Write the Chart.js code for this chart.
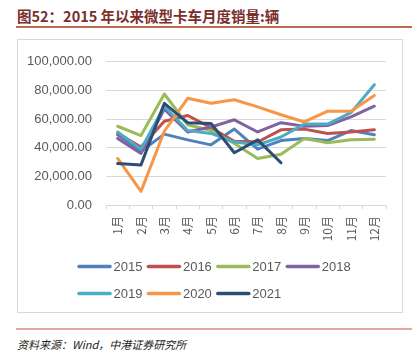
<!DOCTYPE html>
<html>
<head>
<meta charset="utf-8">
<script src="https://cdn.jsdelivr.net/npm/chart.js@4"></script>
<style>
  html, body { margin: 0; padding: 0; background: #fff; }
  body { width: 418px; height: 362px; position: relative; overflow: hidden; }
  #title {
    position: absolute; left: 17px; top: 5px;
    font: bold 14.5px "Noto Sans CJK SC", sans-serif; color: #7a2f2c; white-space: nowrap;
  }
  #titleLine { position: absolute; left: 16px; top: 26px; width: 396px; height: 1.5px; background: #bf6a52; }
  #box { position: absolute; left: 17px; top: 39px; width: 384px; height: 272px; border: 1px solid #d9d9d9; }
  #box canvas { position: absolute; left: 0; top: 0; }
  #footLine { position: absolute; left: 16px; top: 328px; width: 396px; height: 2px; background: #e3aa9a; }
  #source {
    position: absolute; left: 17px; top: 336px;
    font: italic 11px "Noto Sans CJK SC", sans-serif; color: #222; white-space: nowrap;
  }
</style>
</head>
<body>
<div id="title">图52：2015 年以来微型卡车月度销量:辆</div>
<div id="titleLine"></div>
<div id="box"><canvas id="myChart" width="384" height="272"></canvas></div>
<div id="footLine"></div>
<div id="source">资料来源：Wind，中港证券研究所</div>

<script>
// months and sales (vehicles)
var months = ['1月', '2月', '3月', '4月', '5月', '6月', '7月', '8月', '9月', '10月', '11月', '12月'];
var yearNames = ['2015', '2016', '2017', '2018', '2019', '2020', '2021'];
var yearColors = ['#4f81bd', '#c0504d', '#9bbb59', '#8064a2', '#4bacc6', '#f79646', '#2c4d75'];

var sales2015 = [49000, 37500, 49500, 45500, 42000, 53000, 39000, 45000, 46500, 45000, 52000, 49000];
var sales2016 = [50000, 40500, 58500, 62500, 54000, 44500, 44000, 52500, 53000, 50000, 51000, 52500];
var sales2017 = [55000, 48500, 77500, 56000, 52000, 43000, 32500, 35500, 46500, 43500, 45500, 46000];
var sales2018 = [46500, 36000, 67000, 51000, 54500, 59500, 51000, 57500, 55000, 55500, 61500, 69000];
var sales2019 = [51000, 39000, 69000, 52000, 50000, 44000, 42000, 47500, 56500, 56500, 64500, 84000];
var sales2020 = [32500, 9500, 51500, 74500, 71000, 73500, 68500, 63000, 58000, 65500, 65500, 76500];
var sales2021 = [29000, 28000, 71000, 57500, 57000, 36500, 45500, 29500];

var yTicks = [0, 20000, 40000, 60000, 80000, 100000];

var seriesValues = [sales2015, sales2016, sales2017, sales2018, sales2019, sales2020, sales2021];

// legend drawn by hand so the two rows sit like the excel one
var rowLegend = {
    id: 'rowLegend',
    afterDraw: function (chart) {
        var ctx = chart.ctx;
        var rows = [[0, 1, 2, 3], [4, 5, 6]];
        var rowY = [226.5, 253.5];
        ctx.save();
        ctx.font = '13px "Liberation Sans", Arial, sans-serif';
        ctx.textBaseline = 'middle';
        ctx.textAlign = 'left';
        rows.forEach(function (row, r) {
            var x = 59.5;
            row.forEach(function (i) {
                var ds = chart.data.datasets[i];
                ctx.strokeStyle = ds.borderColor;
                ctx.lineWidth = 3.5;
                ctx.lineCap = 'round';
                ctx.beginPath();
                ctx.moveTo(x + 1.5, rowY[r]);
                ctx.lineTo(x + 32.5, rowY[r]);
                ctx.stroke();
                ctx.fillStyle = '#595959';
                ctx.fillText(ds.label, x + 36, rowY[r] + 0.5);
                x += 36 + ctx.measureText(ds.label).width + 4.5;
            });
        });
        ctx.restore();
    }
};

var ctx = document.getElementById('myChart').getContext('2d');
var myChart = new Chart(ctx, {
    type: 'line',
    data: {
        labels: months,
        datasets: yearNames.map(function (name, i) {
            return {
                label: name,
                data: seriesValues[i],
                borderColor: yearColors[i],
                backgroundColor: yearColors[i],
                borderWidth: 3,
                borderJoinStyle: 'round',
                borderCapStyle: 'round',
                pointRadius: 0,
                tension: 0,
                order: yearNames.length - i
            };
        })
    },
    options: {
        responsive: false,
        animation: false,
        layout: { padding: { left: 0, right: 16, top: 17, bottom: 67 } },
        plugins: {
            legend: { display: false },
            tooltip: { enabled: false }
        },
        scales: {
            x: {
                offset: true,
                grid: {
                    offset: true,
                    drawOnChartArea: false,
                    drawTicks: true,
                    tickLength: 4,
                    color: '#d9d9d9'
                },
                border: { color: '#d9d9d9' },
                ticks: {
                    minRotation: 90,
                    maxRotation: 90,
                    padding: 7,
                    color: '#595959',
                    font: { family: '"Noto Sans CJK SC", "Liberation Sans", sans-serif', size: 12 }
                },
                afterFit: function (axis) { axis.height = 40; }
            },
            y: {
                min: 0,
                max: 100000,
                afterBuildTicks: function (axis) {
                    axis.ticks = yTicks.map(function (v) { return { value: v }; });
                },
                grid: { color: '#d9d9d9', drawTicks: false },
                border: { display: false },
                ticks: {
                    padding: 14,
                    color: '#595959',
                    font: { family: '"Liberation Sans", Arial, sans-serif', size: 13 },
                    callback: function (v) {
                        return Number(v).toLocaleString('en-US', { minimumFractionDigits: 2, maximumFractionDigits: 2 });
                    }
                },
                afterFit: function (axis) { axis.width = 88; }
            }
        }
    },
    plugins: [rowLegend]
});
</script>
</body>
</html>
